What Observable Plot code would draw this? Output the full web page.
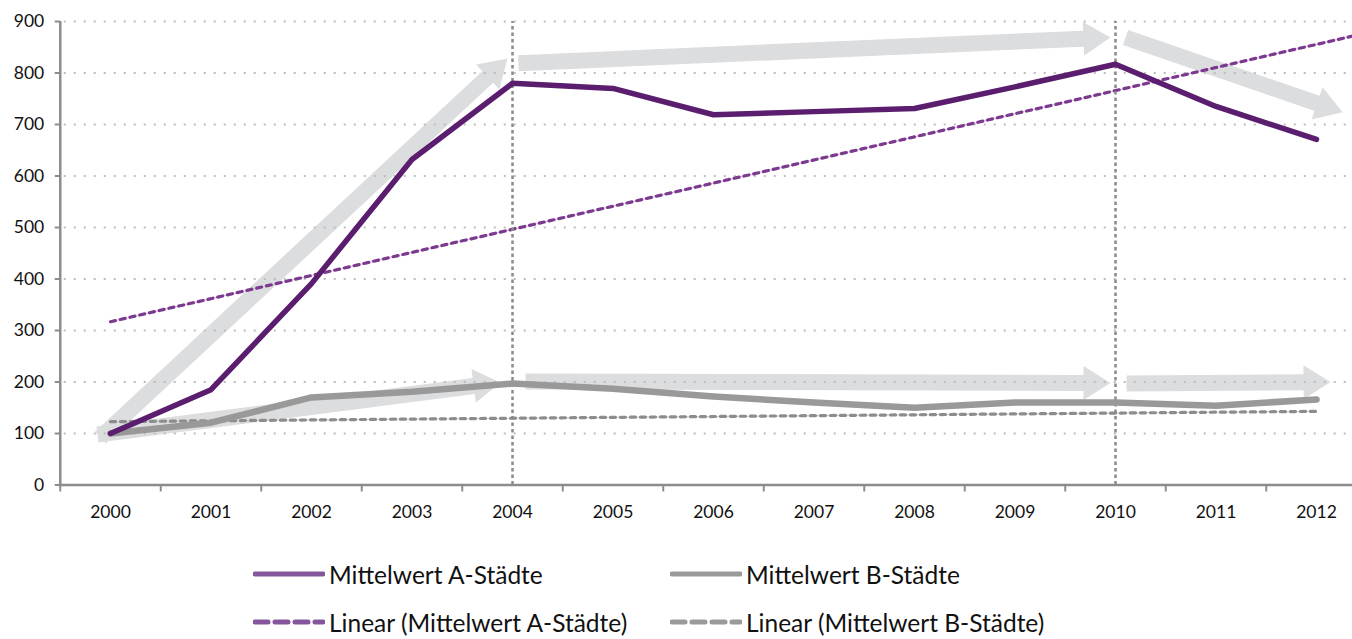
<!DOCTYPE html>
<html><head><meta charset="utf-8">
<script src="https://cdn.jsdelivr.net/npm/d3@7"></script>
<script src="https://cdn.jsdelivr.net/npm/@observablehq/plot@0.6"></script>
<style>
html,body{margin:0;padding:0;background:#fff;overflow:hidden}
#wrap{position:relative;width:1352px;height:639px;font-family:Lato,"Open Sans",sans-serif}
.leg{position:absolute;height:30px;display:flex;align-items:center;font-size:24.5px;color:#111;white-space:nowrap}
.leg svg{display:block;margin-right:4px}
</style></head><body><div id="wrap"><div id="chart"></div></div>
<script>
// ---- data ----
const years = [2000,2001,2002,2003,2004,2005,2006,2007,2008,2009,2010,2011,2012];
const meanA = [100,185,391,632,780,770,719,725,731,773,817,735,671];
const meanB = [100,121,170,181,197,187,172,160,150,160,160,154,166];
const trendAYears = [2000, 2012.5];
const trendAValues = [317, 878];
const trendBYears = [2000, 2012];
const trendBValues = [123, 143];
const markerYears = [2004, 2010];
const yTicks = [0,100,200,300,400,500,600,700,800,900];
// annotation arrows (tail -> tip), in year / value units
const arrowGroup = ["A","A","A","B","B","B"];
const arrowTailX = [1999.9, 2004.06, 2010.1, 1999.87, 2004.13, 2010.11];
const arrowTailY = [92, 819, 869, 98, 201, 197];
const arrowTipX  = [2003.95, 2009.95, 2012.26, 2003.88, 2009.95, 2012.14];
const arrowTipY  = [828, 869, 724, 199, 198, 200];
const seriesNames = ["Mittelwert A-Städte","Mittelwert B-Städte","Linear (Mittelwert A-Städte)","Linear (Mittelwert B-Städte)"];

// ---- layout ----
const W = 1352, H = 545, axisY0 = 484.5, mT = 21;
const xDomain = [1999.5, 2012.5];
const xRange = [59.75, 59.75 + 13 * 100.5];
const yDomain = [0, 900];
const yRange = [axisY0, mT];
const xs = d3.scaleLinear(xDomain, xRange);
const ys = d3.scaleLinear(yDomain, yRange);

// build arrow polygons in pixel space, stored back in data units
const arrowPts = [];
arrowTailX.forEach((_, i) => {
  const x0 = xs(arrowTailX[i]), y0 = ys(arrowTailY[i]);
  const x1 = xs(arrowTipX[i]), y1 = ys(arrowTipY[i]);
  const len = Math.hypot(x1 - x0, y1 - y0);
  const ux = (x1 - x0) / len, uy = (y1 - y0) / len;
  const nx = -uy, ny = ux;
  const w = 8, hh = 17, hl = 27;
  const bx = x1 - ux * hl, by = y1 - uy * hl;
  const P = [[x0 + nx*w, y0 + ny*w],[bx + nx*w, by + ny*w],[bx + nx*hh, by + ny*hh],[x1, y1],
             [bx - nx*hh, by - ny*hh],[bx - nx*w, by - ny*w],[x0 - nx*w, y0 - ny*w]];
  P.forEach(([px, py]) => arrowPts.push({id: i, g: arrowGroup[i], x: xs.invert(px), y: ys.invert(py)}));
});

const rowsA = years.map((y, i) => ({year: y, v: meanA[i]}));
const rowsB = years.map((y, i) => ({year: y, v: meanB[i]}));
const trA = trendAYears.map((y, i) => ({year: y, v: trendAValues[i]}));
const trB = trendBYears.map((y, i) => ({year: y, v: trendBValues[i]}));
const boundaries = years.map(y => y - 0.5);
const pxPerYear = (xRange[1] - xRange[0]) / (xDomain[1] - xDomain[0]);
const pxPerUnit = (yRange[0] - yRange[1]) / (yDomain[1] - yDomain[0]);

const chart = Plot.plot({
  width: W, height: H,
  marginTop: mT, marginBottom: H - axisY0, marginLeft: xRange[0], marginRight: 0,
  style: {fontFamily: "Lato, 'Open Sans', sans-serif", fontSize: "17.5px", color: "#111", background: "white", overflow: "hidden"},
  x: {domain: xDomain, range: xRange, ticks: years, tickFormat: d => String(d), tickSize: 0, tickPadding: 21, label: null},
  y: {domain: yDomain, range: yRange, ticks: yTicks, tickSize: 0, tickPadding: 16, label: null},
  marks: [
    Plot.line(arrowPts, {x: "x", y: "y", z: "id", fill: "#dcdddf", stroke: "none"}),
    Plot.ruleY(yTicks.filter(v => v > 0), {x1: xDomain[0] + 4 / pxPerYear, x2: xDomain[1], stroke: "#bdbdbd", strokeWidth: 2, strokeDasharray: "2,8"}),
    Plot.line(trA, {x: "year", y: "v", stroke: "#dcc6e2", strokeWidth: 1.2}),
    Plot.line(trA, {x: "year", y: "v", stroke: "#7b3a8e", strokeWidth: 3.2, strokeDasharray: "5,5"}),
    Plot.line(trB, {x: "year", y: "v", stroke: "#cfcfcf", strokeWidth: 1.2}),
    Plot.line(trB, {x: "year", y: "v", stroke: "#8c8c8c", strokeWidth: 3.2, strokeDasharray: "5,5"}),
    Plot.ruleX(markerYears, {y1: 0, y2: 900, stroke: "#8a8a8a", strokeWidth: 2.5, strokeDasharray: "3.5,3"}),
    Plot.line(rowsB, {x: "year", y: "v", stroke: "#999999", strokeWidth: 6.5, strokeLinecap: "round", strokeLinejoin: "round"}),
    Plot.line(rowsA, {x: "year", y: "v", stroke: "#5b1e6f", strokeWidth: 5.5, strokeLinecap: "round", strokeLinejoin: "round"}),
    Plot.ruleX([xDomain[0]], {y1: 0, y2: 900, stroke: "#8c8c8c", strokeWidth: 2.5}),
    Plot.ruleY(yTicks, {x1: xDomain[0] - 5 / pxPerYear, x2: xDomain[0], stroke: "#8c8c8c", strokeWidth: 2}),
    Plot.ruleX(boundaries, {y1: 0, y2: -7 / pxPerUnit, stroke: "#8c8c8c", strokeWidth: 2}),
    Plot.ruleY([0], {x1: xDomain[0] - 1 / pxPerYear, x2: xDomain[1], stroke: "#8c8c8c", strokeWidth: 2.5})
  ]
});
document.getElementById("chart").appendChild(chart);

// ---- legend ----
const wrap = document.getElementById("wrap");
const legItems = [
  {name: seriesNames[0], color: "#85569b", dash: null, left: 253, top: 559},
  {name: seriesNames[1], color: "#9a9a9a", dash: null, left: 670, top: 559},
  {name: seriesNames[2], color: "#85569b", dash: "13,7", left: 253, top: 607},
  {name: seriesNames[3], color: "#9a9a9a", dash: "13,7", left: 670, top: 607}
];
legItems.forEach(it => {
  const d = document.createElement("div");
  d.className = "leg";
  d.style.left = it.left + "px";
  d.style.top = it.top + "px";
  const dashAttr = it.dash ? `stroke-dasharray="${it.dash}"` : "";
  d.innerHTML = `<svg width="72" height="10"><line x1="2" y1="5" x2="70" y2="5" stroke="${it.color}" stroke-width="5" stroke-linecap="round" ${dashAttr}/></svg><span>${it.name}</span>`;
  wrap.appendChild(d);
});
</script></body></html>
